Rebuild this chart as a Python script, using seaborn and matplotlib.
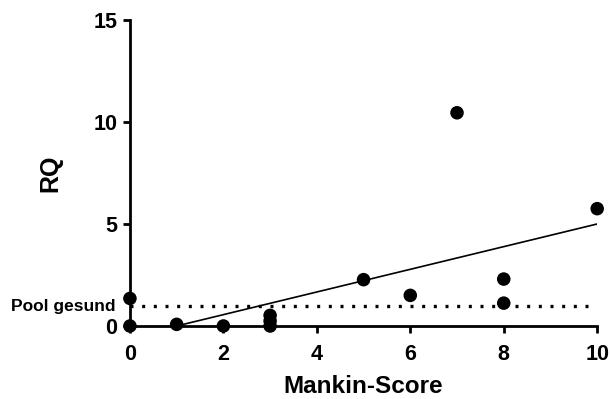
import matplotlib
matplotlib.use("Agg")
import matplotlib.pyplot as plt
import seaborn as sns
import pandas as pd

# Mankin score vs. relative quantification (RQ)
mankin = [0, 0, 1, 2, 3, 3, 3, 5, 6, 7, 8, 8, 10]
rq = [0.0, 1.35, 0.08, 0.0, 0.0, 0.25, 0.52, 2.27, 1.5, 10.45, 2.3, 1.12, 5.75]

# Linear fit line endpoints
fit_x = [1, 10]
fit_y = [0.0, 5.0]

# Reference level of healthy pool
pool_level = 1.0
pool_label = "Pool gesund"

x_ticks = [0, 2, 4, 6, 8, 10]
y_ticks = [0, 5, 10, 15]

sns.set_style("ticks", {"axes.edgecolor": "black", "text.color": "black",
                        "axes.labelcolor": "black", "xtick.color": "black",
                        "ytick.color": "black"})
plt.rcParams["font.family"] = ["Liberation Sans", "DejaVu Sans"]
plt.rcParams["font.weight"] = "bold"

df = pd.DataFrame({"Mankin-Score": mankin, "RQ": rq})
fit = pd.DataFrame({"x": fit_x, "y": fit_y})

fig = plt.figure(figsize=(6.10, 3.99), dpi=100)
ax = fig.add_axes([0.213, 0.183, 0.766, 0.767])

ax.plot([0, 10], [pool_level, pool_level], color="black", lw=2.4,
        linestyle=(0, (0.9, 2.6)), zorder=2)
sns.lineplot(data=fit, x="x", y="y", ax=ax, color="black", lw=1.2, zorder=3)
sns.scatterplot(data=df, x="Mankin-Score", y="RQ", ax=ax, s=95, color="black",
                edgecolor="none", zorder=4, clip_on=False)

ax.set_xlim(0, 10)
ax.set_ylim(0, 15)
ax.set_xticks(x_ticks)
ax.set_yticks(y_ticks)
ax.set_xticklabels([str(t) for t in x_ticks], fontsize=15.5, fontweight="bold",
                   color="black")
ax.set_yticklabels([str(t) for t in y_ticks], fontsize=15.5, fontweight="bold",
                   color="black")
ax.tick_params(axis="x", direction="out", length=5, width=2, pad=8, color="black")
ax.tick_params(axis="y", direction="out", length=5, width=2, pad=4, color="black")

sns.despine(ax=ax)
for side in ("left", "bottom"):
    ax.spines[side].set_linewidth(2)
    ax.spines[side].set_color("black")

ax.text(-0.3, pool_level - 0.05, pool_label, ha="right", va="center",
        fontsize=12.5, fontweight="bold", color="black")

ax.set_xlabel("Mankin-Score", fontsize=17.5, fontweight="bold", labelpad=7,
              color="black")
ax.set_ylabel("RQ", fontsize=18, fontweight="bold", labelpad=22, color="black")

fig.savefig("out.png", dpi=100)
